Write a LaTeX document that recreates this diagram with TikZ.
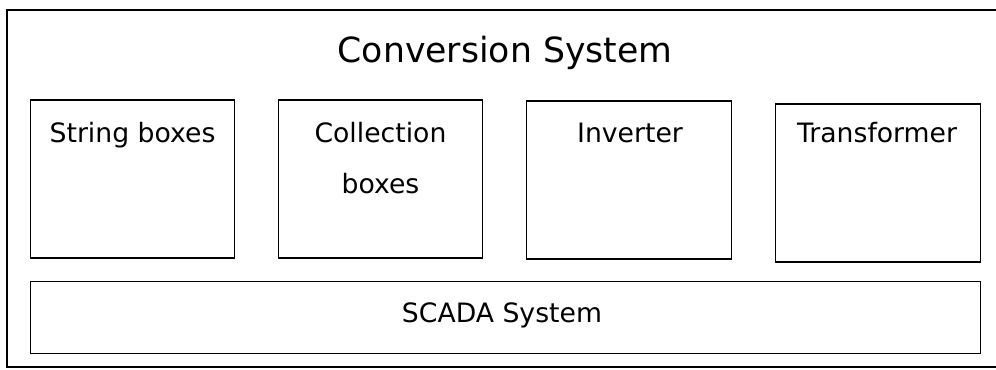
\documentclass[tikz,border=0pt]{standalone}
\usepackage{fontspec}
\setmainfont{DejaVu Sans}
\usetikzlibrary{positioning}

\tikzset{
  part/.style={draw, line width=0.9pt, minimum width=153.5pt, minimum height=118.5pt, inner sep=0pt},
  partname/.style={anchor=base, inner sep=0pt, align=center, font=\fontsize{20}{38}\selectfont},
}

\begin{document}
\begin{tikzpicture}[x=0.75pt, y=-0.75pt]
    \useasboundingbox (0,0) rectangle (996,369);
    % Outer frame
    \draw[line width=1.1pt] (7,10) rectangle (1003,367);
    \node[anchor=base, inner sep=0pt, font=\fontsize{26}{30}\selectfont] (title) at (505,62) {Conversion System};
    % Components
    \node[part] (strbox) at (132.5,179) {};
    \node[part] (colbox) at (380.5,179) {};
    \node[part] (inv) at (629,180) {};
    \node[part] (trafo) at (878,183) {};
    \node[partname] (strname) at (132.5,142) {String boxes};
    \node[partname] (colname) at (380.5,193) {Collection\\boxes};
    \node[partname] (invname) at (630,142) {Inverter};
    \node[partname] (trafoname) at (877,142) {Transformer};
    % SCADA
    \node[draw, line width=0.9pt, minimum width=712pt, minimum height=53.5pt, inner sep=0pt] (scada) at (505.5,317.5) {};
    \node[partname] (scadaname) at (502,322) {SCADA System};
\end{tikzpicture}
\end{document}
